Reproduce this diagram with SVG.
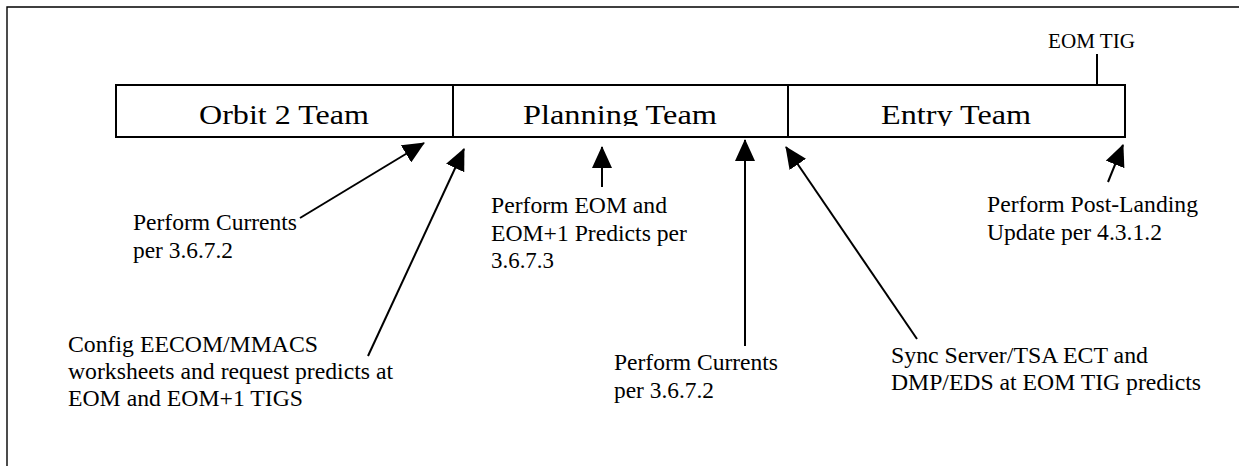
<svg xmlns="http://www.w3.org/2000/svg" width="1239" height="466" viewBox="0 0 1239 466">
<style>
text{font-family:"Liberation Serif","Times New Roman",serif;fill:#000}
.big{font-size:28px}
.sm{font-size:24px}
.tig{font-size:20px}
.ln{stroke:#000;stroke-width:2;fill:none}
.box{stroke:#000;stroke-width:2;fill:#fff}
</style>
<defs>
<marker id="ah" markerUnits="userSpaceOnUse" markerWidth="22" markerHeight="20" refX="21" refY="10" orient="auto" viewBox="0 0 22 20">
<path d="M0,0 L22,10 L0,20 z" fill="#000"/>
</marker>
<clipPath id="barclip"><rect x="116" y="86" width="1009" height="40"/></clipPath>
</defs>
<rect width="1239" height="466" fill="#fff"/>
<g id="frame"><path d="M7,466 L7,7 L1239,7" stroke="#000" stroke-width="1.4" fill="none"/></g>
<g id="timeline">
<g id="orbit2"><rect class="box" x="116" y="85" width="337" height="52"/><text class="big" x="199" y="124" textLength="170" lengthAdjust="spacingAndGlyphs" clip-path="url(#barclip)">Orbit 2 Team</text></g>
<g id="planning"><rect class="box" x="453" y="85" width="335" height="52"/><text class="big" x="523" y="124" textLength="194" lengthAdjust="spacingAndGlyphs" clip-path="url(#barclip)">Planning Team</text></g>
<g id="entry"><rect class="box" x="788" y="85" width="337" height="52"/><text class="big" x="881" y="124" textLength="150" lengthAdjust="spacingAndGlyphs" clip-path="url(#barclip)">Entry Team</text></g>
</g>
<g id="eomtig"><line class="ln" x1="1097" y1="54" x2="1097" y2="85" stroke-width="1.5"/><text class="tig" x="1048" y="48" textLength="87" lengthAdjust="spacingAndGlyphs">EOM TIG</text></g>
<g id="connectors">
<line class="ln" x1="300" y1="218" x2="424" y2="143" marker-end="url(#ah)"/>
<line class="ln" x1="368" y1="356" x2="464" y2="149" marker-end="url(#ah)"/>
<line class="ln" x1="602" y1="187" x2="602" y2="147" marker-end="url(#ah)"/>
<line class="ln" x1="745" y1="346" x2="745" y2="140" marker-end="url(#ah)"/>
<line class="ln" x1="917" y1="339" x2="786" y2="147" marker-end="url(#ah)"/>
<line class="ln" x1="1108" y1="182" x2="1123" y2="145" marker-end="url(#ah)"/>
</g>
<g id="note-currents1">
<text class="sm" x="133" y="230" textLength="164" lengthAdjust="spacingAndGlyphs">Perform Currents</text>
<text class="sm" x="133" y="258" textLength="100" lengthAdjust="spacingAndGlyphs">per 3.6.7.2</text>
</g>
<g id="note-config">
<text class="sm" x="68" y="352" textLength="250" lengthAdjust="spacingAndGlyphs">Config EECOM/MMACS</text>
<text class="sm" x="68" y="379" textLength="325" lengthAdjust="spacingAndGlyphs">worksheets and request predicts at</text>
<text class="sm" x="68" y="406" textLength="235" lengthAdjust="spacingAndGlyphs">EOM and EOM+1 TIGS</text>
</g>
<g id="note-eom">
<text class="sm" x="491" y="213" textLength="176" lengthAdjust="spacingAndGlyphs">Perform EOM and</text>
<text class="sm" x="491" y="241" textLength="196" lengthAdjust="spacingAndGlyphs">EOM+1 Predicts per</text>
<text class="sm" x="491" y="268" textLength="63" lengthAdjust="spacingAndGlyphs">3.6.7.3</text>
</g>
<g id="note-currents2">
<text class="sm" x="614" y="370" textLength="164" lengthAdjust="spacingAndGlyphs">Perform Currents</text>
<text class="sm" x="614" y="398" textLength="100" lengthAdjust="spacingAndGlyphs">per 3.6.7.2</text>
</g>
<g id="note-sync">
<text class="sm" x="891" y="363" textLength="257" lengthAdjust="spacingAndGlyphs">Sync Server/TSA ECT and</text>
<text class="sm" x="891" y="390" textLength="310" lengthAdjust="spacingAndGlyphs">DMP/EDS at EOM TIG predicts</text>
</g>
<g id="note-postlanding">
<text class="sm" x="987" y="212" textLength="211" lengthAdjust="spacingAndGlyphs">Perform Post-Landing</text>
<text class="sm" x="987" y="240" textLength="175" lengthAdjust="spacingAndGlyphs">Update per 4.3.1.2</text>
</g>
</svg>
